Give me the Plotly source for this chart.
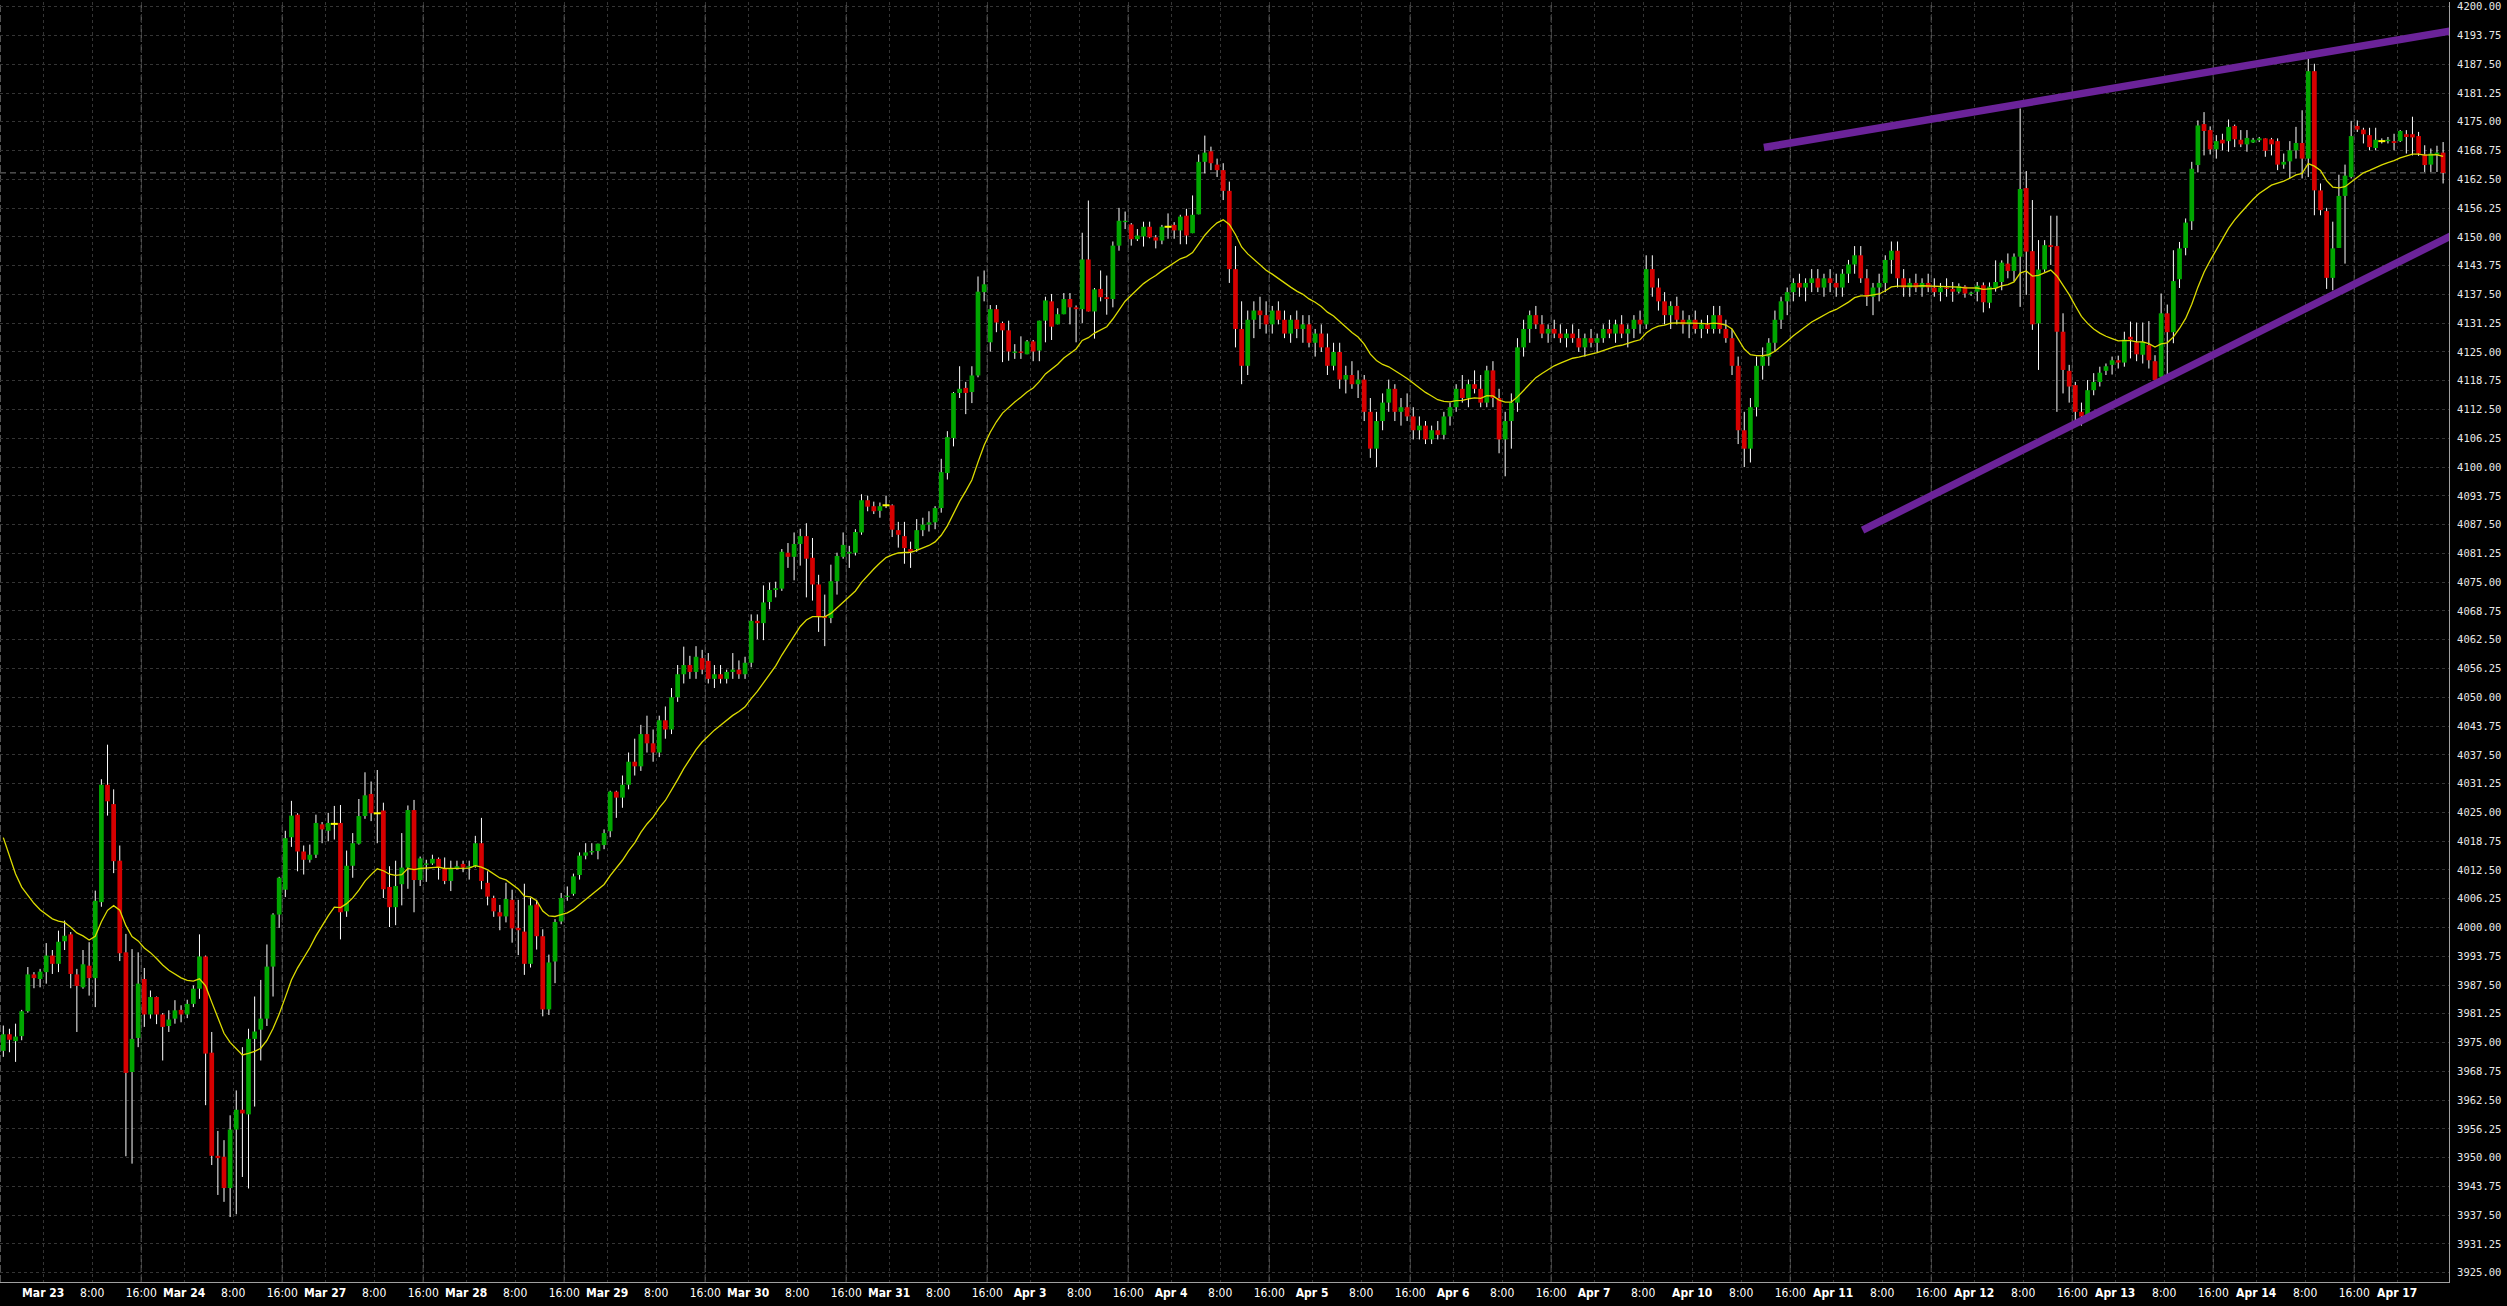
import plotly.graph_objects as go

# ---------------- data (H1 bars, index 0 = Mar 22 16:00) ----------------
open_ = [
 3973.2, 3976.8, 3975.3, 3976.4, 3981.8, 3989.8, 3988.8, 3990.3, 3993.9, 3992.1,
 3997.0, 3998.5, 3989.8, 3987.0, 3991.7, 3989.0, 4005.5, 4031.0, 4026.8, 4014.5,
 3994.6, 3968.6, 3976.0, 3988.8, 3981.1, 3984.9, 3981.1, 3978.6, 3980.2, 3982.1,
 3981.1, 3983.4, 3986.7, 3993.7, 3972.8, 3950.4, 3950.2, 3943.4, 3956.1, 3960.4,
 3959.4, 3975.8, 3977.8, 3980.2, 3991.5, 4002.8, 4008.2, 4019.6, 4024.5, 4016.5,
 4014.7, 4015.8, 4022.4, 4021.0, 4022.5, 4022.7, 4003.5, 4013.4, 4018.2, 4024.2,
 4029.0, 4024.8, 4025.4, 4008.8, 4004.4, 4009.4, 4013.0, 4025.5, 4010.3, 4013.6,
 4013.9, 4014.9, 4012.7, 4010.1, 4012.8, 4013.8, 4013.0, 4013.2, 4018.3, 4009.7,
 4006.4, 4003.3, 4002.4, 4006.0, 3999.9, 3999.1, 3992.1, 4005.0, 3998.1, 3982.2,
 3992.6, 4001.3, 4006.6, 4007.3, 4011.4, 4015.6, 4016.3, 4016.6, 4017.9, 4020.9,
 4029.5, 4028.2, 4031.0, 4036.0, 4035.0, 4042.0, 4040.0, 4038.0, 4045.0, 4043.0,
 4050.0, 4055.0, 4057.0, 4055.5, 4058.5, 4057.9, 4054.0, 4055.0, 4054.0, 4055.5,
 4056.0, 4055.0, 4057.5, 4066.6, 4066.1, 4070.7, 4073.3, 4073.6, 4081.4, 4080.5,
 4083.3, 4085.0, 4080.3, 4074.5, 4067.6, 4067.2, 4075.2, 4080.5, 4081.2, 4081.4,
 4085.8, 4092.8, 4091.5, 4090.5, 4091.7, 4091.7, 4086.3, 4085.0, 4082.2, 4082.2,
 4086.3, 4087.5, 4088.0, 4091.1, 4098.7, 4106.3, 4116.1, 4117.2, 4116.3, 4119.9,
 4138.0, 4127.1, 4134.3, 4131.3, 4129.7, 4124.8, 4125.1, 4124.5, 4127.3, 4125.3,
 4131.8, 4136.0, 4131.0, 4133.2, 4136.5, 4134.7, 4134.3, 4145.1, 4133.8, 4138.7,
 4136.9, 4136.5, 4148.1, 4153.2, 4152.7, 4149.5, 4150.1, 4152.2, 4149.9, 4149.2,
 4152.2, 4152.6, 4151.4, 4154.6, 4150.8, 4154.9, 4166.3, 4168.6, 4165.7,
 4164.5, 4160, 4143, 4130, 4122, 4132, 4134, 4133, 4131, 4134,
 4132, 4129, 4132, 4130, 4131, 4127, 4129, 4126, 4122, 4125,
 4119, 4120, 4118, 4119, 4112, 4104, 4110, 4114, 4117, 4112,
 4113, 4111, 4108, 4109, 4106, 4108, 4107, 4111, 4113, 4117,
 4115, 4118, 4117, 4114, 4121, 4115, 4106, 4110, 4114, 4126,
 4130, 4133, 4131, 4129, 4130, 4129, 4128, 4129, 4128, 4126,
 4128, 4127, 4128, 4130, 4129, 4131, 4129, 4130, 4132, 4131,
 4143, 4139, 4136, 4133, 4135, 4132, 4131, 4132, 4130, 4131,
 4130, 4133, 4130, 4128, 4122, 4108, 4104, 4113, 4122, 4124,
 4127, 4132, 4136, 4138, 4140, 4139, 4140, 4141, 4139, 4141,
 4140, 4139, 4142, 4144, 4146, 4141, 4137, 4139, 4140, 4145,
 4147, 4141, 4139, 4140, 4139, 4140, 4139, 4138, 4139,
 4138.7, 4138.1, 4139.2, 4137.6, 4138.1, 4139.5, 4135.7, 4138.9, 4140.2, 4144.2,
 4142.6, 4145.7, 4160.6, 4146.9, 4131.2, 4142.9, 4148.2, 4148.0, 4129.4, 4120.9,
 4117.8, 4112.0, 4111.0, 4116.7, 4118.5, 4120.9, 4122.2, 4123.2, 4122.7, 4128.3,
 4127.1, 4124.4, 4126.5, 4123.0, 4119.6, 4133.4, 4129.3, 4140.8, 4147.6, 4153.4,
 4165.6, 4174.5, 4173.2, 4169.0, 4171.1, 4170.8, 4174.1, 4171.1, 4170.1, 4170.5,
 4171.0, 4171.4, 4171.2, 4170.8, 4165.7, 4166.4, 4168.8, 4170.4, 4167.0, 4186.0,
 4160.1, 4155.6, 4141.1, 4147.6, 4158.9, 4163.0, 4174.1, 4173.3, 4172.1, 4169.3,
 4170.8, 4170.8, 4170.8, 4170.8, 4172.3, 4172.3, 4171.9, 4167.9, 4165.7, 4167.9, 4168.3,
]

high = [
 3978.7, 3978.0, 3979.1, 3982.1, 3991.4, 3990.3, 3991.0, 3996.6, 3995.1, 3999.3,
 4001.5, 3999.0, 3991.0, 3995.1, 3996.8, 4008.0, 4032.2, 4039.7, 4030.0, 4017.8,
 3998.6, 3995.3, 3994.6, 3991.2, 3986.3, 3985.0, 3981.4, 3982.0, 3984.2, 3983.1,
 3984.3, 3987.4, 3998.5, 3993.9, 3977.3, 3955.8, 3953.8, 3959.2, 3964.6, 3974.0,
 3978.0, 3985.0, 3988.6, 3996.3, 4003.1, 4011.0, 4021.0, 4027.5, 4024.8, 4017.8,
 4018.0, 4024.5, 4022.9, 4024.9, 4026.4, 4026.6, 4016.7, 4020.5, 4027.9, 4033.7,
 4031.7, 4034.2, 4027.1, 4013.3, 4014.5, 4020.5, 4026.5, 4027.7, 4015.4, 4014.7,
 4015.8, 4015.2, 4015.2, 4014.5, 4014.5, 4014.5, 4014.5, 4019.9, 4023.8, 4012.2,
 4006.9, 4004.9, 4009.7, 4008.2, 4006.0, 4009.5, 4006.4, 4006.0, 3999.6, 3994.1,
 4001.8, 4007.5, 4008.9, 4011.7, 4016.3, 4018.3, 4018.3, 4018.2, 4021.3, 4029.7,
 4029.7, 4033.0, 4038.0, 4041.0, 4044.0, 4046.0, 4043.0, 4046.0, 4048.0, 4052.0,
 4057.0, 4061.0, 4059.0, 4061.1, 4060.3, 4059.6, 4057.0, 4057.0, 4056.0, 4059.6,
 4058.0, 4058.8, 4068.0, 4068.0, 4074.3, 4074.9, 4075.1, 4082.2, 4083.5, 4085.8,
 4086.6, 4087.8, 4084.6, 4076.6, 4072.3, 4078.8, 4081.4, 4085.8, 4082.9, 4086.5,
 4094.1, 4093.8, 4092.5, 4092.3, 4093.8, 4091.9, 4088.1, 4088.1, 4083.8, 4088.7,
 4089.0, 4090.4, 4091.5, 4101.8, 4107.8, 4116.3, 4121.9, 4118.5, 4121.9, 4141.4,
 4142.7, 4135.2, 4135.2, 4131.6, 4131.8, 4126.7, 4128.4, 4127.6, 4127.6, 4131.8,
 4137.0, 4137.6, 4134.5, 4137.8, 4137.8, 4135.1, 4150.9, 4157.9, 4138.9, 4142.7,
 4141.6, 4149.0, 4156.3, 4155.5, 4153.0, 4151.7, 4153.3, 4153.3, 4150.4, 4152.6,
 4155.1, 4153.2, 4154.8, 4156.1, 4159.0, 4167.9, 4172.0, 4169.6, 4167.0,
 4166, 4162, 4148, 4136, 4134, 4136, 4137, 4136, 4135, 4136,
 4134, 4133, 4134, 4133, 4133, 4130, 4131, 4129, 4127, 4127,
 4122, 4123, 4121, 4120, 4115, 4112, 4116, 4119, 4118, 4115,
 4116, 4113, 4111, 4110, 4109, 4110, 4112, 4114, 4118, 4120,
 4119, 4121, 4120, 4122, 4123, 4117, 4112, 4116, 4128, 4132,
 4134, 4135, 4133, 4131, 4132, 4131, 4130, 4131, 4130, 4129,
 4130, 4129, 4131, 4132, 4132, 4133, 4131, 4133, 4134, 4146,
 4146, 4141, 4138, 4136, 4137, 4134, 4133, 4134, 4132, 4133,
 4135, 4135, 4132, 4130, 4124, 4112, 4115, 4124, 4126, 4128,
 4134, 4137, 4139, 4141, 4142, 4141, 4143, 4143, 4142, 4143,
 4142, 4143, 4145, 4148, 4148, 4143, 4140, 4142, 4146, 4149,
 4149, 4143, 4141, 4142, 4141, 4142, 4141, 4140, 4141,
 4140.2, 4139.9, 4139.5, 4138.1, 4140.2, 4140.1, 4140.1, 4144.9, 4144.9, 4146.4,
 4146.4, 4177.9, 4164.3, 4158.0, 4149.3, 4149.3, 4154.6, 4154.6, 4133.4, 4122.2,
 4118.5, 4114.0, 4118.9, 4120.4, 4121.8, 4122.5, 4124.0, 4124.2, 4129.4, 4131.6,
 4131.4, 4131.4, 4131.7, 4124.3, 4137.7, 4135.3, 4147.1, 4148.9, 4154.0, 4166.3,
 4175.3, 4177.1, 4174.0, 4172.1, 4172.4, 4175.5, 4174.4, 4173.2, 4173.2, 4171.5,
 4171.7, 4171.4, 4171.5, 4171.4, 4168.1, 4170.8, 4173.9, 4177.5, 4188.7, 4187.6,
 4161.6, 4156.3, 4153.3, 4163.5, 4165.7, 4175.2, 4175.3, 4173.7, 4173.7, 4173.7,
 4171.4, 4171.7, 4172.4, 4173.2, 4173.2, 4176.1, 4172.8, 4169.9, 4169.2, 4169.8, 4170.6,
]

low = [
 3971.9, 3972.9, 3970.8, 3975.5, 3981.5, 3986.8, 3987.0, 3987.8, 3989.9, 3990.3,
 3995.1, 3986.8, 3977.3, 3986.7, 3985.2, 3982.7, 4004.5, 4024.3, 4011.8, 3992.7,
 3950.3, 3948.7, 3974.0, 3978.4, 3980.2, 3979.0, 3971.1, 3977.3, 3979.1, 3979.4,
 3980.3, 3982.7, 3984.5, 3961.4, 3948.4, 3941.9, 3940.4, 3937.1, 3937.7, 3945.8,
 3943.3, 3961.1, 3971.1, 3978.6, 3985.0, 3999.9, 4006.6, 4017.5, 4012.2, 4011.5,
 4014.1, 4015.1, 4018.3, 4018.7, 4019.1, 3997.4, 4002.3, 4010.8, 4018.0, 4023.6,
 4023.1, 4018.3, 4006.4, 4000.1, 4000.5, 4004.8, 4008.4, 4003.3, 4009.0, 4009.9,
 4013.6, 4010.4, 4009.4, 4007.9, 4012.6, 4012.0, 4010.4, 4013.0, 4008.3, 4004.8,
 4002.3, 3999.4, 4001.1, 3996.7, 3994.0, 3989.7, 3991.3, 3995.2, 3980.7, 3981.0,
 3987.9, 4000.7, 4005.8, 4006.9, 4010.4, 4014.8, 4015.8, 4014.8, 4017.0, 4019.6,
 4023.8, 4026.0, 4030.0, 4033.0, 4034.0, 4038.0, 4036.0, 4037.0, 4041.0, 4042.0,
 4049.0, 4053.0, 4054.0, 4054.0, 4055.0, 4053.0, 4052.0, 4053.0, 4053.0, 4054.0,
 4054.0, 4054.0, 4056.5, 4062.6, 4062.4, 4069.1, 4071.7, 4073.1, 4078.1, 4075.4,
 4078.6, 4071.7, 4071.0, 4064.2, 4061.1, 4066.1, 4072.3, 4080.1, 4078.1, 4080.8,
 4085.3, 4090.4, 4089.8, 4089.0, 4091.1, 4084.8, 4082.5, 4079.0, 4078.1, 4081.6,
 4085.0, 4086.0, 4086.5, 4090.1, 4097.3, 4104.5, 4115.0, 4111.5, 4113.9, 4119.5,
 4136.0, 4125.1, 4129.3, 4122.8, 4123.1, 4123.5, 4123.5, 4124.5, 4123.0, 4123.0,
 4127.1, 4127.6, 4131.0, 4133.2, 4131.0, 4127.1, 4131.3, 4133.8, 4127.9, 4136.0,
 4133.1, 4134.7, 4147.0, 4151.7, 4148.1, 4149.1, 4147.9, 4149.7, 4147.5, 4148.4,
 4149.6, 4149.6, 4148.4, 4148.4, 4150.8, 4154.9, 4163.8, 4164.5, 4163.0,
 4158, 4140, 4126, 4118, 4120, 4128, 4130, 4129, 4129, 4131,
 4128, 4127, 4128, 4127, 4126, 4124, 4125, 4120, 4121, 4117,
 4116, 4117, 4115, 4110, 4102, 4100, 4108, 4112, 4110, 4109,
 4110, 4106, 4106, 4105, 4105, 4106, 4106, 4109, 4112, 4114,
 4113, 4116, 4113, 4113, 4113, 4103, 4098, 4104, 4112, 4124,
 4127, 4130, 4128, 4127, 4128, 4127, 4126, 4127, 4125, 4124,
 4126, 4125, 4127, 4128, 4127, 4128, 4126, 4128, 4129, 4130,
 4137, 4134, 4131, 4130, 4131, 4129, 4128, 4129, 4128, 4129,
 4129, 4129, 4127, 4120, 4105, 4100, 4101, 4111, 4119, 4122,
 4125, 4130, 4133, 4136, 4137, 4136, 4138, 4138, 4137, 4138,
 4137, 4137, 4140, 4142, 4140, 4135, 4133, 4136, 4138, 4142,
 4139, 4137, 4137, 4138, 4137, 4138, 4137, 4136, 4137,
 4135.9, 4137.7, 4136.8, 4137.2, 4136.0, 4133.6, 4134.5, 4138.1, 4138.4, 4141.0,
 4140.4, 4134.8, 4137.4, 4129.8, 4121.1, 4142.4, 4143.9, 4112.0, 4116.0, 4114.0,
 4110.0, 4109.0, 4110.0, 4115.6, 4117.5, 4120.0, 4120.1, 4121.4, 4121.8, 4123.6,
 4123.0, 4122.5, 4121.4, 4118.9, 4118.5, 4119.3, 4126.9, 4138.9, 4146.0, 4151.5,
 4164.0, 4167.7, 4167.9, 4167.0, 4168.8, 4168.5, 4169.5, 4169.5, 4168.5, 4170.4,
 4170.6, 4167.4, 4167.7, 4164.5, 4164.8, 4162.7, 4167.0, 4162.7, 4163.0, 4154.7,
 4154.7, 4138.7, 4138.4, 4147.6, 4144.2, 4162.7, 4172.8, 4170.3, 4168.8, 4168.8,
 4170.3, 4170.3, 4168.8, 4170.6, 4168.1, 4167.7, 4167.6, 4164.1, 4164.1, 4164.1, 4161.6,
]

close = [
 3976.8, 3975.6, 3976.3, 3981.8, 3989.8, 3989.0, 3990.4, 3993.9, 3992.1, 3996.9,
 3998.2, 3989.9, 3987.3, 3992.0, 3989.0, 4005.8, 4031.0, 4027.4, 4014.4, 3994.4,
 3968.4, 3975.8, 3987.8, 3981.1, 3984.9, 3981.1, 3978.4, 3980.0, 3982.0, 3981.1,
 3983.4, 3986.7, 3993.7, 3972.6, 3950.4, 3949.9, 3943.4, 3956.1, 3960.4, 3959.6,
 3975.8, 3977.4, 3980.2, 3991.5, 4002.8, 4010.8, 4019.4, 4024.3, 4016.5, 4014.7,
 4015.8, 4022.7, 4021.3, 4022.7, 4022.5, 4003.3, 4013.4, 4018.3, 4024.2, 4028.7,
 4024.8, 4024.8, 4008.3, 4004.4, 4009.0, 4013.0, 4025.5, 4010.3, 4015.0, 4013.9,
 4014.9, 4013.0, 4010.1, 4012.8, 4013.3, 4013.0, 4013.3, 4018.3, 4010.1, 4006.7,
 4003.5, 4002.4, 4006.2, 3999.8, 3999.4, 3992.1, 4004.8, 3998.1, 3982.2, 3992.4,
 4001.2, 4006.4, 4006.9, 4011.1, 4015.6, 4016.3, 4016.6, 4018.2, 4020.5, 4029.5,
 4028.2, 4031.0, 4036.0, 4035.0, 4042.0, 4040.0, 4038.0, 4045.0, 4043.0, 4050.0,
 4055.0, 4057.0, 4055.5, 4058.8, 4056.0, 4054.0, 4055.0, 4054.0, 4055.5, 4056.0,
 4055.0, 4057.5, 4066.6, 4066.1, 4070.6, 4073.3, 4073.7, 4081.6, 4080.5, 4083.3,
 4085.0, 4080.1, 4074.5, 4067.4, 4067.2, 4075.2, 4080.7, 4083.1, 4081.6, 4085.9,
 4092.8, 4091.4, 4090.4, 4091.5, 4091.7, 4086.4, 4085.3, 4082.4, 4081.6, 4086.3,
 4087.5, 4088.0, 4091.1, 4098.9, 4106.5, 4116.1, 4117.0, 4116.1, 4119.9, 4138.1,
 4139.7, 4134.3, 4131.4, 4129.7, 4125.1, 4125.1, 4124.8, 4127.3, 4125.1, 4131.8,
 4136.2, 4130.5, 4133.2, 4136.5, 4134.7, 4134.3, 4145.1, 4133.8, 4138.6, 4136.9,
 4136.5, 4148.1, 4153.5, 4153.5, 4149.5, 4150.3, 4152.2, 4149.9, 4149.2, 4152.2,
 4152.2, 4151.4, 4154.4, 4150.3, 4154.8, 4166.3, 4168.3, 4166.0, 4164.5,
 4160, 4143, 4130, 4122, 4132, 4134, 4133, 4131, 4134, 4132,
 4129, 4132, 4130, 4131, 4127, 4129, 4126, 4122, 4125, 4119,
 4120, 4118, 4119, 4112, 4104, 4110, 4114, 4117, 4112, 4113,
 4111, 4108, 4109, 4106, 4108, 4107, 4111, 4113, 4117, 4115,
 4118, 4117, 4114, 4121, 4115, 4106, 4110, 4114, 4126, 4130,
 4133, 4131, 4129, 4130, 4129, 4128, 4129, 4128, 4126, 4128,
 4127, 4128, 4130, 4129, 4131, 4129, 4130, 4132, 4131, 4143,
 4139, 4136, 4133, 4135, 4132, 4131, 4132, 4130, 4131, 4130,
 4133, 4130, 4128, 4122, 4108, 4104, 4113, 4122, 4124, 4127,
 4132, 4136, 4138, 4140, 4139, 4140, 4141, 4139, 4141, 4140,
 4139, 4142, 4144, 4146, 4141, 4137, 4139, 4140, 4145, 4147,
 4141, 4139, 4140, 4139, 4140, 4139, 4138, 4139, 4138.7,
 4138.1, 4139.3, 4137.7, 4137.9, 4139.4, 4135.8, 4139.2, 4140.2, 4144.4, 4142.6,
 4145.7, 4160.4, 4146.8, 4131.0, 4142.9, 4148.2, 4147.8, 4129.4, 4121.1, 4117.5,
 4112.0, 4111.0, 4116.7, 4118.5, 4120.5, 4121.9, 4123.2, 4122.7, 4127.7, 4127.7,
 4124.5, 4127.2, 4123.2, 4118.9, 4133.4, 4129.3, 4140.4, 4147.5, 4153.1, 4164.8,
 4174.2, 4173.0, 4169.0, 4170.8, 4170.3, 4173.9, 4171.2, 4170.1, 4171.5, 4171.1,
 4171.4, 4168.7, 4170.1, 4165.7, 4166.3, 4168.8, 4170.4, 4167.0, 4186.0, 4160.1,
 4155.8, 4141.1, 4147.5, 4158.9, 4163.3, 4171.9, 4173.3, 4172.3, 4169.5, 4171.1,
 4170.8, 4171.1, 4170.4, 4173.0, 4171.7, 4171.6, 4168.1, 4165.6, 4168.1, 4168.3, 4163.9,
]

# day labels and the bar index where each day starts
day_labels = ["Mar 23", "Mar 24", "Mar 27", "Mar 28", "Mar 29", "Mar 30", "Mar 31",
              "Apr 3", "Apr 4", "Apr 5", "Apr 6", "Apr 7", "Apr 10", "Apr 11",
              "Apr 12", "Apr 13", "Apr 14", "Apr 17"]
day_start = [7, 30, 53, 76, 99, 122, 145, 168, 191, 214, 237, 260, 276, 299,
             322, 345, 368, 391]
hour_labels = ["8:00", "16:00"]
hour_offsets = [8, 16]

# moving average settings (EMA 20, seeded from the value shown at the left edge)
ema_period = 20
ema_seed = 4024.0

# trend lines: (bar index, price) anchor points
upper_bars = [287.2, 401.3]
upper_prices = [4169.4, 4195.2]
lower_bars = [303.3, 400.3]
lower_prices = [4086.3, 4150.9]

# price axis
price_min, price_max = 3922.99, 4201.02
price_tick0, price_step = 3925.0, 6.25

# ---------------- derived ----------------
n = len(close)
xs = list(range(n))

alpha = 2.0 / (ema_period + 1)
ema = []
prev = ema_seed
for c in close:
    prev = prev + alpha * (c - prev)
    ema.append(prev)

wick_x, wick_y = [], []
up_x, up_y, dn_x, dn_y, dj_x, dj_y = [], [], [], [], [], []
for i in range(n):
    wick_x += [i, i, None]
    wick_y += [low[i], high[i], None]
    o, c = open_[i], close[i]
    if c - o > 0.05:
        up_x += [i, i, None]; up_y += [o, c, None]
    elif o - c > 0.05:
        dn_x += [i, i, None]; dn_y += [o, c, None]
    else:
        dj_x.append(i); dj_y.append(c)

tick_vals, tick_text, light_vals = [], [], [-0.5]
for k, (lab, st) in enumerate(zip(day_labels, day_start)):
    end = day_start[k + 1] if k + 1 < len(day_start) else n
    tick_vals.append(st - 0.5)
    tick_text.append("<b>" + lab + "</b>")
    for hl, off in zip(hour_labels, hour_offsets):
        if st + off < end:
            tick_vals.append(st + off - 0.5)
            tick_text.append(hl)
            if hl == "16:00":
                light_vals.append(st + off - 0.5)

fig = go.Figure()
fig.add_trace(go.Scatter(x=wick_x, y=wick_y, mode="lines",
                         line=dict(color="#ffffff", width=1), hoverinfo="skip"))
fig.add_trace(go.Scatter(x=up_x, y=up_y, mode="lines",
                         line=dict(color="#00a600", width=4.7), hoverinfo="skip"))
fig.add_trace(go.Scatter(x=dn_x, y=dn_y, mode="lines",
                         line=dict(color="#d60000", width=4.7), hoverinfo="skip"))
fig.add_trace(go.Scatter(x=dj_x, y=dj_y, mode="markers",
                         marker=dict(symbol="line-ew", size=5,
                                     line=dict(color="#ffff00", width=2)),
                         hoverinfo="skip"))
fig.add_trace(go.Scatter(x=xs, y=ema, mode="lines",
                         line=dict(color="#dcdc00", width=1.3), hoverinfo="skip"))

shapes = []
for v in light_vals:
    shapes.append(dict(type="line", xref="x", yref="paper", x0=v, x1=v, y0=0, y1=1,
                       line=dict(color="#6e6e6e", width=1, dash="7px,3px"), layer="below"))
shapes.append(dict(type="line", xref="paper", yref="y", x0=0, x1=1,
                   y0=close[-1], y1=close[-1],
                   line=dict(color="#777777", width=1, dash="6px,4px"), layer="below"))
for bx, py in ((upper_bars, upper_prices), (lower_bars, lower_prices)):
    shapes.append(dict(type="line", xref="x", yref="y", x0=bx[0], x1=bx[1],
                       y0=py[0], y1=py[1],
                       line=dict(color="#6b2399", width=7.5), layer="above"))

fig.update_layout(
    width=2507, height=1306, autosize=False,
    margin=dict(l=0, r=58, t=0, b=24),
    paper_bgcolor="#000000", plot_bgcolor="#000000",
    showlegend=False, shapes=shapes,
    xaxis=dict(range=[-0.54, 398.96], tickmode="array", tickvals=tick_vals,
               ticktext=tick_text, showgrid=True, gridcolor="#353535",
               griddash="3px,3px", gridwidth=1, zeroline=False,
               showline=True, linecolor="#a0a0a0", linewidth=1, ticks="",
               tickfont=dict(family="DejaVu Sans Condensed, DejaVu Sans, sans-serif",
                             size=12, color="#ffffff"),
               fixedrange=True),
    yaxis=dict(range=[price_min, price_max], side="right", tick0=price_tick0,
               dtick=price_step, tickformat=".2f", showgrid=True,
               gridcolor="#353535", griddash="3px,3px", gridwidth=1,
               zeroline=False, showline=True, linecolor="#a0a0a0", linewidth=1,
               ticks="", ticklabelstandoff=5, ticklabeloverflow="allow",
               tickfont=dict(family="DejaVu Sans Mono, monospace", size=10.5,
                             color="#e8e8e8"),
               fixedrange=True),
)

fig.write_html("out.html", config={"displayModeBar": False},
               post_script="document.body.style.margin='0';"
                           "document.body.style.overflow='hidden';"
                           "document.body.style.background='#000';")
